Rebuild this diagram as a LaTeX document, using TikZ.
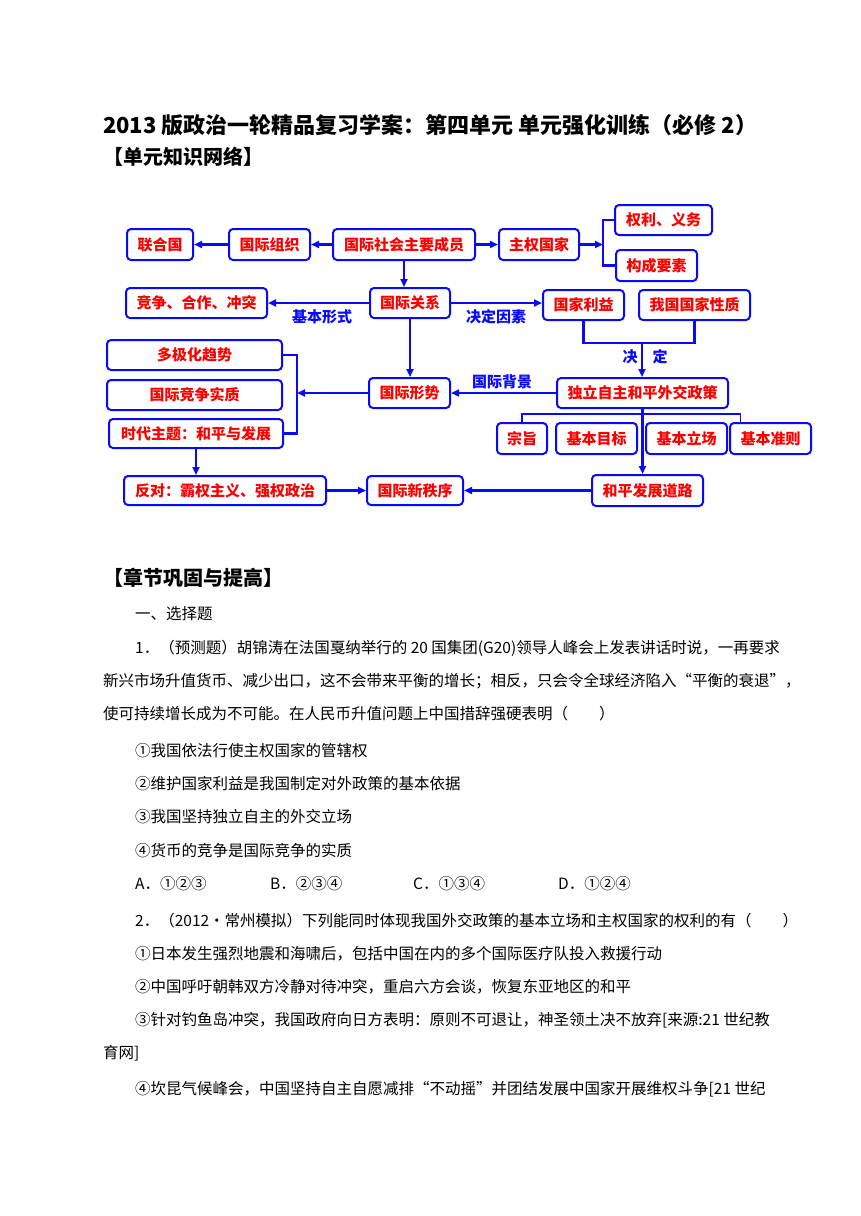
\documentclass[tikz,border=0pt]{standalone}
\usepackage{fontspec}
\setmainfont{Noto Sans CJK SC}
\usetikzlibrary{arrows.meta}
\definecolor{netblue}{RGB}{10,10,250}
\definecolor{netred}{RGB}{250,0,0}

\begin{document}
\begin{tikzpicture}[x=1pt,y=-1pt,>={Triangle[length=8pt,width=7pt]},
  box/.style={draw=netblue,line width=2pt,rounded corners=4pt,text=netred,inner sep=0pt,font=\bfseries\fontsize{15}{18}\selectfont},
  link/.style={draw=netblue,line width=2.6pt},
  thinlink/.style={draw=netblue,line width=1.6pt},
  tag/.style={text=netblue,inner sep=0pt,font=\bfseries\fontsize{15}{18}\selectfont},
  head/.style={anchor=west,inner sep=0pt,font=\bfseries\fontsize{20}{24}\selectfont},
  txt/.style={anchor=west,inner sep=0pt,font=\fontsize{15.5}{18}\selectfont}]
\useasboundingbox (0,0) rectangle (860,1216);

\node[anchor=west,inner sep=0pt,font=\bfseries\fontsize{22}{26}\selectfont] (title) at (103,125) {2013 版政治一轮精品复习学案：第四单元 单元强化训练（必修 2）};
\node[head] (net) at (103,157) {【单元知识网络】};

% knowledge network
\node[box,minimum width=66pt,minimum height=31pt] (un) at (160,244.5) {联合国};
\node[box,minimum width=81pt,minimum height=31pt] (org) at (269.5,244.5) {国际组织};
\node[box,minimum width=142pt,minimum height=31pt] (mem) at (404,244.5) {国际社会主要成员};
\node[box,minimum width=80pt,minimum height=31pt] (sov) at (539,244.5) {主权国家};
\node[box,minimum width=97pt,minimum height=30pt] (right) at (663.5,220) {权利、义务};
\node[box,minimum width=81pt,minimum height=31pt] (elem) at (656.5,265.5) {构成要素};
\node[box,minimum width=141pt,minimum height=30pt] (comp) at (196.5,303) {竞争、合作、冲突};
\node[box,minimum width=80pt,minimum height=30pt] (rel) at (410,303) {国际关系};
\node[box,minimum width=81pt,minimum height=30pt] (inter) at (583.5,305) {国家利益};
\node[box,minimum width=111pt,minimum height=30pt] (nat) at (694.5,305) {我国国家性质};
\node[box,minimum width=175pt,minimum height=30pt] (multi) at (194.5,355) {多极化趋势};
\node[box,minimum width=175pt,minimum height=30pt] (ess) at (194.5,395) {国际竞争实质};
\node[box,minimum width=174pt,minimum height=29pt] (theme) at (196,433.5) {时代主题：和平与发展};
\node[box,minimum width=81pt,minimum height=30pt] (sit) at (409.5,393) {国际形势};
\node[box,minimum width=171pt,minimum height=30pt] (pol) at (642.5,393) {独立自主和平外交政策};
\node[box,minimum width=50pt,minimum height=31pt] (aim) at (522,438.5) {宗旨};
\node[box,minimum width=81pt,minimum height=31pt] (goal) at (596.5,438.5) {基本目标};
\node[box,minimum width=81pt,minimum height=31pt] (stand) at (686.5,438.5) {基本立场};
\node[box,minimum width=81pt,minimum height=31pt] (norm) at (770.5,438.5) {基本准则};
\node[box,minimum width=202pt,minimum height=29pt] (opp) at (225,490.5) {反对：霸权主义、强权政治};
\node[box,minimum width=96pt,minimum height=29pt] (order) at (415,490.5) {国际新秩序};
\node[box,minimum width=111pt,minimum height=31pt] (road) at (647.5,490.5) {和平发展道路};

\node[tag] (form) at (322,317) {基本形式};
\node[tag] (cause) at (496,317) {决定因素};
\node[tag] (bg) at (502,382) {国际背景};
\node[tag] (dec1) at (630,357) {决};
\node[tag] (dec2) at (660,357) {定};

\coordinate (fork) at (603,244.5);
\coordinate (gather) at (297,393);
\coordinate (join) at (642,343);

\draw[link,->] (mem) -- (org);
\draw[link,->] (org) -- (un);
\draw[link,->] (mem) -- (sov);
\draw[link,->] (sov) -- (fork);
\draw[link] (right.west) -| (fork) |- (elem.west);
\draw[link,->] (mem.south) -- (mem.south|-rel.north);
\draw[link,->] (rel) -- (comp);
\draw[link,->] (rel.east) -- (rel.east-|inter.west);
\draw[link] (inter.south) |- (join) -| (nat.south);
\draw[link,->] (join) -- (join|-pol.north);
\draw[link,->] (rel.south) -- (rel.south|-sit.north);
\draw[link,->] (pol) -- (sit);
\draw[link,->] (sit) -- (gather);
\draw[link] (multi.east) -| (gather) |- (theme.east);
\draw[thinlink] (aim.north) -- ++(0,-8) -| ([xshift=-30pt]norm.north);
\draw[link,->] (pol.south) -- (pol.south|-road.north);
\draw[link,->] (theme.south) -- (theme.south|-opp.north);
\draw[link,->] (opp) -- (order);
\draw[link,->] (road) -- (order);

% exercises
\node[head] (consol) at (103,578) {【章节巩固与提高】};
\node[txt] (sec) at (135,614) {一、选择题};
\node[txt] (q1a) at (135,648) {1．（预测题）胡锦涛在法国戛纳举行的 20 国集团(G20)领导人峰会上发表讲话时说，一再要求};
\node[txt] (q1b) at (103,681) {新兴市场升值货币、减少出口，这不会带来平衡的增长；相反，只会令全球经济陷入“平衡的衰退”，};
\node[txt] (q1c) at (103,714) {使可持续增长成为不可能。在人民币升值问题上中国措辞强硬表明（\quad\quad）};
\node[txt] (q1o1) at (135,751) {①我国依法行使主权国家的管辖权};
\node[txt] (q1o2) at (135,784) {②维护国家利益是我国制定对外政策的基本依据};
\node[txt] (q1o3) at (135,817) {③我国坚持独立自主的外交立场};
\node[txt] (q1o4) at (135,851) {④货币的竞争是国际竞争的实质};
\node[txt] (q1A) at (135,884) {A．①②③};
\node[txt] (q1B) at (270,884) {B．②③④};
\node[txt] (q1C) at (413,884) {C．①③④};
\node[txt] (q1D) at (558,884) {D．①②④};
\node[txt] (q2a) at (135,921) {2．（2012•常州模拟）下列能同时体现我国外交政策的基本立场和主权国家的权利的有（\quad\quad）};
\node[txt] (q2o1) at (135,954) {①日本发生强烈地震和海啸后，包括中国在内的多个国际医疗队投入救援行动};
\node[txt] (q2o2) at (135,987) {②中国呼吁朝韩双方冷静对待冲突，重启六方会谈，恢复东亚地区的和平};
\node[txt] (q2o3) at (135,1020) {③针对钓鱼岛冲突，我国政府向日方表明：原则不可退让，神圣领土决不放弃[来源:21 世纪教};
\node[txt] (q2o3b) at (103,1053) {育网]};
\node[txt] (q2o4) at (135,1089) {④坎昆气候峰会，中国坚持自主自愿减排“不动摇”并团结发展中国家开展维权斗争[21 世纪};
\end{tikzpicture}
\end{document}
